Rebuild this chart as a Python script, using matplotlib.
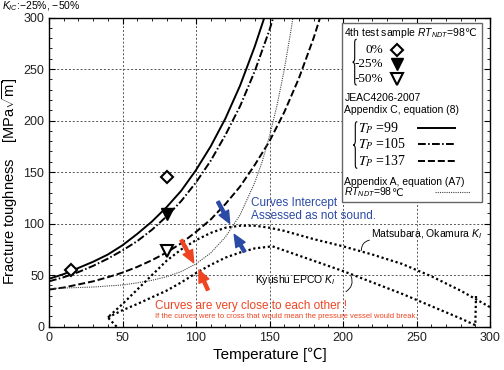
import matplotlib
matplotlib.use('Agg')
import matplotlib.pyplot as plt
import numpy as np
from matplotlib.path import Path
from matplotlib.patches import PathPatch, Rectangle
from matplotlib.lines import Line2D

# data
temp_99 = [0, 10, 20, 30, 40, 50, 60, 70, 80, 90, 100, 110, 120, 130, 140, 150]
kic_99 = [46.5, 51, 57, 63, 70, 79, 90, 102, 116, 132, 152, 175, 202, 234, 272, 315]

temp_105 = [0, 10, 20, 30, 40, 50, 60, 70, 80, 90, 100, 110, 120, 130, 140, 150, 160]
kic_105 = [44, 48, 53, 59, 66, 74, 83, 94, 107, 122, 140, 161, 186, 214, 248, 288, 335]

temp_137 = [0, 10, 20, 30, 40, 50, 60, 70, 80, 90, 100, 110, 120, 130, 140, 150, 160, 170, 180, 190]
kic_137 = [36, 38, 41, 44, 48, 52.5, 58, 64.5, 72, 81, 92, 104, 119, 136, 157, 180, 208, 241, 280, 325]

temp_a7 = [0, 10, 20, 30, 40, 50, 60, 70, 80, 90, 100, 110, 120, 130, 140, 145, 150, 155, 160, 165, 170]
kic_a7 = [37, 37.5, 38, 38.5, 39.5, 40.5, 42.5, 45, 48.5, 53.5, 61, 71.5, 87, 108.5, 140, 160, 185, 214, 249, 291, 341]

temp_matsu = [46, 40, 50, 60, 70, 80, 90, 100, 110, 120, 130, 140, 150, 160, 170, 180, 200, 220, 240, 260, 280, 300]
ki_matsu = [0, 9, 22, 36, 50, 64, 75, 84, 91, 96, 98, 98, 96, 93, 89, 85, 78, 70, 61, 49, 35, 19]

temp_kyushu = [40, 50, 60, 70, 80, 90, 100, 110, 120, 130, 140, 152, 160, 180, 200, 220, 240, 260, 280, 290, 290.5]
ki_kyushu = [9, 16, 22, 28.5, 35, 43, 52, 60, 67, 72, 76, 78, 74, 64, 54, 43, 32, 20, 8, 1.5, 31]

temp_0 = [15, 80]
kic_0 = [55, 145]
temp_25 = [80]
kic_25 = [109]
temp_50 = [80]
kic_50 = [73]

plt.rcParams['font.family'] = ['Liberation Sans', 'DejaVu Sans']
plt.rcParams['mathtext.fontset'] = 'custom'
plt.rcParams['mathtext.it'] = 'Liberation Sans:italic'
plt.rcParams['mathtext.rm'] = 'Liberation Sans'

W, H = 504, 370


def fx(px):
    return px / W


def fy(py):
    return 1 - py / H


fig = plt.figure(figsize=(5.04, 3.70), dpi=100)
ax = fig.add_axes([fx(49), fy(326.7), fx(490) - fx(49), fy(17.5) - fy(326.7)])

blue = '#2b4aa6'
red = '#ee4422'

# curves
ax.plot(temp_99, kic_99, color='black', lw=1.4)
ax.plot(temp_105, kic_105, color='black', lw=1.4, ls=(0, (4, 1.2, 0.8, 1.2)))
ax.plot(temp_137, kic_137, color='black', lw=1.4, ls=(0, (3.6, 1.5)))
ax.plot(temp_a7, kic_a7, color='#444444', lw=0.8, ls=(0, (1, 1)))
ax.plot(temp_matsu, ki_matsu, color='black', lw=1.6, ls=(0, (1, 1.2)))
ax.plot(temp_kyushu, ki_kyushu, color='black', lw=1.6, ls=(0, (1, 1.2)))

# test sample markers
ax.plot(temp_0, kic_0, ls='none', marker='D', ms=6, mfc='white', mec='black', mew=1.5, zorder=4)
ax.plot(temp_25, kic_25, ls='none', marker='v', ms=8, mfc='black', mec='black', zorder=4)
ax.plot(temp_50, kic_50, ls='none', marker='v', ms=8, mfc='white', mec='black', mew=1.5, zorder=4)

ax.set_xlim(0, 300)
ax.set_ylim(0, 300)
ax.set_xticks(np.arange(0, 301, 50))
ax.set_yticks(np.arange(0, 301, 50))
ax.set_xticks(np.arange(0, 301, 10), minor=True)
ax.set_yticks(np.arange(0, 301, 10), minor=True)
ax.tick_params(which='both', direction='in', top=True, right=True, labelsize=9, labelcolor='#222222')
ax.tick_params(which='major', length=4, width=0.8)
ax.tick_params(which='minor', length=2.5, width=0.6)
ax.grid(True, which='major', ls=(0, (2, 2)), lw=0.7, color='#555555')
for sp in ax.spines.values():
    sp.set_linewidth(1.0)

ax.set_xlabel('Temperature [℃]', fontsize=11, labelpad=3,
              family=['Liberation Sans', 'Noto Sans CJK JP'])
fig.text(fx(10.5), fy(181.5), 'Fracture toughness    [MPa$\\sqrt{\\rm m}$]',
         rotation=90, ha='center', va='center', fontsize=10.5)
fig.text(fx(2), fy(6), '$K_{IC}$:\u221225%, \u221250%', fontsize=7.5, ha='left', va='center')

# annotations
arrow_kw = dict(arrowstyle='simple,head_length=0.8,head_width=0.7,tail_width=0.2',
                mutation_scale=11, shrinkA=0, shrinkB=0)
ax.annotate('', xy=(122.9, 100.3), xytext=(114.9, 121.3), arrowprops=dict(color=blue, **arrow_kw))
ax.annotate('', xy=(126.0, 89.5), xytext=(133.0, 72.8), arrowprops=dict(color=blue, **arrow_kw))
ax.annotate('', xy=(98.4, 62.1), xytext=(90.0, 84.1), arrowprops=dict(color=red, **arrow_kw))
ax.annotate('', xy=(102.0, 55.0), xytext=(108.1, 35.6), arrowprops=dict(color=red, **arrow_kw))

ax.text(137.6, 120.3, 'Curves Intercept', color=blue, fontsize=8.5, va='center')
ax.text(137.6, 107.4, 'Assessed as not sound.', color=blue, fontsize=8.5, va='center')
ax.text(72, 20.1, 'Curves are very close to each other !', color=red, fontsize=8.5, va='center')
ax.text(72, 9.7, 'If the curves were to cross that would mean the pressure vessel would break.',
        color=red, fontsize=5.5, va='center')

ax.text(219, 89.3, 'Matsubara, Okamura $K_I$', fontsize=7.5, va='center')
ax.text(139.8, 45.3, 'Kyushu EPCO $K_I$', fontsize=7.5, va='center')
ax.annotate('', xy=(212.5, 74), xytext=(218, 84),
            arrowprops=dict(arrowstyle='-', lw=0.6, connectionstyle='arc3,rad=0.4', shrinkA=0, shrinkB=0))
ax.annotate('', xy=(205.5, 49), xytext=(202, 34),
            arrowprops=dict(arrowstyle='-', lw=0.6, connectionstyle='arc3,rad=0.4', shrinkA=0, shrinkB=0))

# legend box drawn by hand
fig.add_artist(Rectangle((fx(341.7), fy(201.7)), fx(481.7) - fx(341.7), fy(23.3) - fy(201.7),
                         transform=fig.transFigure, facecolor='white', edgecolor='#666666', lw=1.0, zorder=5))


def brace(x, y0, y1, w=4):
    ym = (y0 + y1) / 2
    pts = [(x + w, y0),
           (x + w / 2, y0), (x + w / 2, y0 + w / 2), (x + w / 2, y0 + w),
           (x + w / 2, ym - w),
           (x + w / 2, ym - 0.3 * w), (x + 0.2 * w, ym), (x, ym),
           (x + 0.2 * w, ym), (x + w / 2, ym + 0.3 * w), (x + w / 2, ym + w),
           (x + w / 2, y1 - w),
           (x + w / 2, y1 - w / 2), (x + w / 2, y1), (x + w, y1)]
    codes = [Path.MOVETO] + [Path.CURVE4] * 3 + [Path.LINETO] + [Path.CURVE4] * 6 + [Path.LINETO] + [Path.CURVE4] * 3
    verts = [(fx(px), fy(py)) for px, py in pts]
    fig.add_artist(PathPatch(Path(verts, codes), transform=fig.transFigure, fill=False,
                             lw=0.8, edgecolor='black', zorder=6))


def ltext(px, py, s, **kw):
    return fig.text(fx(px), fy(py), s, va='center', zorder=6, **kw)


renderer = fig.canvas.get_renderer()


def ltext_deg(px, py, s, size):
    # mathtext strings have no glyph fallback, so the degree sign goes on its own
    t = ltext(px, py, s, fontsize=size)
    bb = t.get_window_extent(renderer)
    fig.text((bb.x1 - 1.5) / fig.bbox.width, fy(py), '℃', va='center', zorder=6, fontsize=size,
             family=['DejaVu Sans'])


ltext_deg(344.3, 33.3, '4th test sample $RT_{NDT}$=98', 7.5)
brace(352.7, 39.3, 85)
serif = ['Liberation Serif', 'DejaVu Serif']
ltext(383.3, 50, '0%', fontsize=9.5, family=serif, ha='right')
ltext(383.3, 64, '-25%', fontsize=9.5, family=serif, ha='right')
ltext(383.3, 79, '-50%', fontsize=9.5, family=serif, ha='right')
fig.add_artist(Line2D([fx(396.7)], [fy(50)], transform=fig.transFigure, ls='none', marker='D',
                      ms=6, mfc='white', mec='black', mew=1.5, zorder=6))
fig.add_artist(Line2D([fx(396.7)], [fy(64)], transform=fig.transFigure, ls='none', marker='v',
                      ms=8, mfc='black', mec='black', zorder=6))
fig.add_artist(Line2D([fx(396.7)], [fy(79)], transform=fig.transFigure, ls='none', marker='v',
                      ms=8, mfc='white', mec='black', mew=1.5, zorder=6))

ltext(344.3, 98.3, 'JEAC4206-2007', fontsize=7.5)
ltext(344.3, 110, 'Appendix C, equation (8)', fontsize=7.5)
brace(353.3, 121.7, 168.3)
for py, tp in [(128.3, '99'), (144.3, '105'), (161, '137')]:
    fig.text(fx(358.3), fy(py), '$T_P$ =' + tp, va='center', fontsize=10, family=serif,
             math_fontfamily='stix', zorder=6)

fig.add_artist(Line2D([fx(418.3), fx(455)], [fy(128.3)] * 2, transform=fig.transFigure,
                      color='black', lw=1.4, zorder=6))
fig.add_artist(Line2D([fx(418.3), fx(455)], [fy(144.3)] * 2, transform=fig.transFigure,
                      color='black', lw=1.4, ls=(0, (4, 1.2, 0.8, 1.2)), zorder=6))
fig.add_artist(Line2D([fx(418.3), fx(455)], [fy(161)] * 2, transform=fig.transFigure,
                      color='black', lw=1.4, ls=(0, (3.6, 1.5)), zorder=6))

ltext(344.3, 181.7, 'Appendix A, equation (A7)', fontsize=7.5)
ltext_deg(344.3, 192.5, '$RT_{NDT}$=98', 7.5)
fig.add_artist(Line2D([fx(435), fx(470)], [fy(192)] * 2, transform=fig.transFigure,
                      color='#444444', lw=0.8, ls=(0, (1, 1)), zorder=6))

fig.savefig('out.png', dpi=100)
